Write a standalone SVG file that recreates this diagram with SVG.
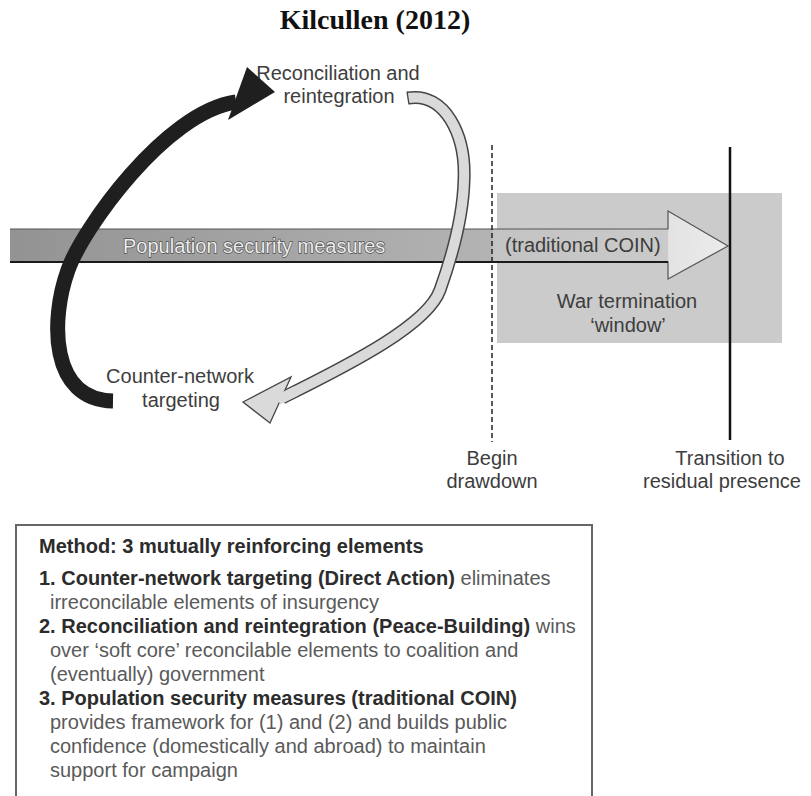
<svg xmlns="http://www.w3.org/2000/svg" width="811" height="796" viewBox="0 0 811 796">
<defs>
<linearGradient id="barGrad" gradientUnits="userSpaceOnUse" x1="10" y1="0" x2="730" y2="0">
<stop offset="0" stop-color="#939393"/>
<stop offset="0.668" stop-color="#b3b3b3"/>
<stop offset="0.672" stop-color="#c3c3c3"/>
<stop offset="0.913" stop-color="#cacaca"/>
<stop offset="0.915" stop-color="#e3e3e3"/>
<stop offset="1" stop-color="#ececec"/>
</linearGradient>
<style>
.lbl{font-family:"Liberation Sans",Arial,sans-serif;font-size:20px;fill:#3d3d3d}
.box{font-family:"Liberation Sans",Arial,sans-serif;font-size:20px;fill:#5a5a5a}
.b{font-weight:bold;fill:#2c2c2c}
.title{font-family:"Liberation Serif","Times New Roman",serif;font-size:28px;font-weight:bold;fill:#111}
.halo{fill:#ececec;stroke:#505050;stroke-width:1.3px;paint-order:stroke}
.darkarc{fill:none;stroke:#1f1f1f;stroke-width:15}
.lightout{fill:none;stroke:#454545;stroke-width:13}
.lightin{fill:none;stroke:#dadada;stroke-width:10}
</style>
</defs>
<rect width="811" height="796" fill="#ffffff"/>

<g id="title"><text class="title" x="375" y="29" text-anchor="middle">Kilcullen (2012)</text></g>

<g id="node-window">
<rect x="497" y="193" width="285" height="150" fill="#cbcbcb"/>
<text class="lbl" x="627" y="308" text-anchor="middle">War termination</text>
<text class="lbl" x="628" y="332" text-anchor="middle">‘window’</text>
</g>

<g id="node-population">
<path d="M10,229 H668 V211 L728,246 L668,279 V262 H10" fill="url(#barGrad)" stroke="#555" stroke-width="1.2"/>
<path d="M10,262 H668" stroke="#1a1a1a" stroke-width="2" fill="none"/>
<text class="lbl halo" x="123" y="253">Population security measures</text>
<text class="lbl" x="505" y="252">(traditional COIN)</text>
</g>

<g id="node-begin">
<line x1="492" y1="145" x2="492" y2="442" stroke="#222" stroke-width="1.5" stroke-dasharray="5 3"/>
<text class="lbl" x="492" y="465" text-anchor="middle">Begin</text>
<text class="lbl" x="492" y="488" text-anchor="middle">drawdown</text>
</g>

<g id="node-transition">
<line x1="730" y1="147" x2="730" y2="440" stroke="#111" stroke-width="2.5"/>
<text class="lbl" x="730" y="465" text-anchor="middle">Transition to</text>
<text class="lbl" x="722" y="488" text-anchor="middle">residual presence</text>
</g>

<g id="node-reconciliation">
<text class="lbl" x="338" y="80" text-anchor="middle">Reconciliation and</text>
<text class="lbl" x="339" y="103" text-anchor="middle">reintegration</text>
</g>

<g id="node-counter">
<text class="lbl" x="180" y="383" text-anchor="middle">Counter-network</text>
<text class="lbl" x="181" y="407" text-anchor="middle">targeting</text>
</g>

<g id="connectors">
<path class="darkarc" d="M113,401 C50,400 50,320 68,270 C82,230 165,112 236,102"/>
<polygon points="247,67 275,92 228,120" fill="#1f1f1f"/>
<path class="lightout" d="M408,98 C445,92 466,135 464,180 C463,222 450,262 440,290 C428,324 355,362 282,398"/>
<path class="lightin" d="M408,98 C445,92 466,135 464,180 C463,222 450,262 440,290 C428,324 355,362 282,398"/>
<line x1="407" y1="91.6" x2="409" y2="104.4" stroke="#454545" stroke-width="1.3"/>
<polygon points="243,402 291,377 270,423" fill="#dadada" stroke="#454545" stroke-width="1.3"/>
<path d="M296,391 L278,400" stroke="#dadada" stroke-width="10" fill="none"/>
</g>

<g id="legend">
<rect x="16" y="525" width="576" height="300" fill="#ffffff" stroke="#666" stroke-width="2"/>
<text class="box" x="39" y="553"><tspan class="b">Method: 3 mutually reinforcing elements</tspan></text>
<text class="box" x="39" y="585"><tspan class="b">1. Counter-network targeting (Direct Action)</tspan> eliminates</text>
<text class="box" x="50" y="609">irreconcilable elements of insurgency</text>
<text class="box" x="39" y="633"><tspan class="b">2. Reconciliation and reintegration (Peace-Building)</tspan> wins</text>
<text class="box" x="50" y="657">over ‘soft core’ reconcilable elements to coalition and</text>
<text class="box" x="50" y="681">(eventually) government</text>
<text class="box" x="39" y="705"><tspan class="b">3. Population security measures (traditional COIN)</tspan></text>
<text class="box" x="50" y="729">provides framework for (1) and (2) and builds public</text>
<text class="box" x="50" y="753">confidence (domestically and abroad) to maintain</text>
<text class="box" x="50" y="777">support for campaign</text>
</g>
</svg>
